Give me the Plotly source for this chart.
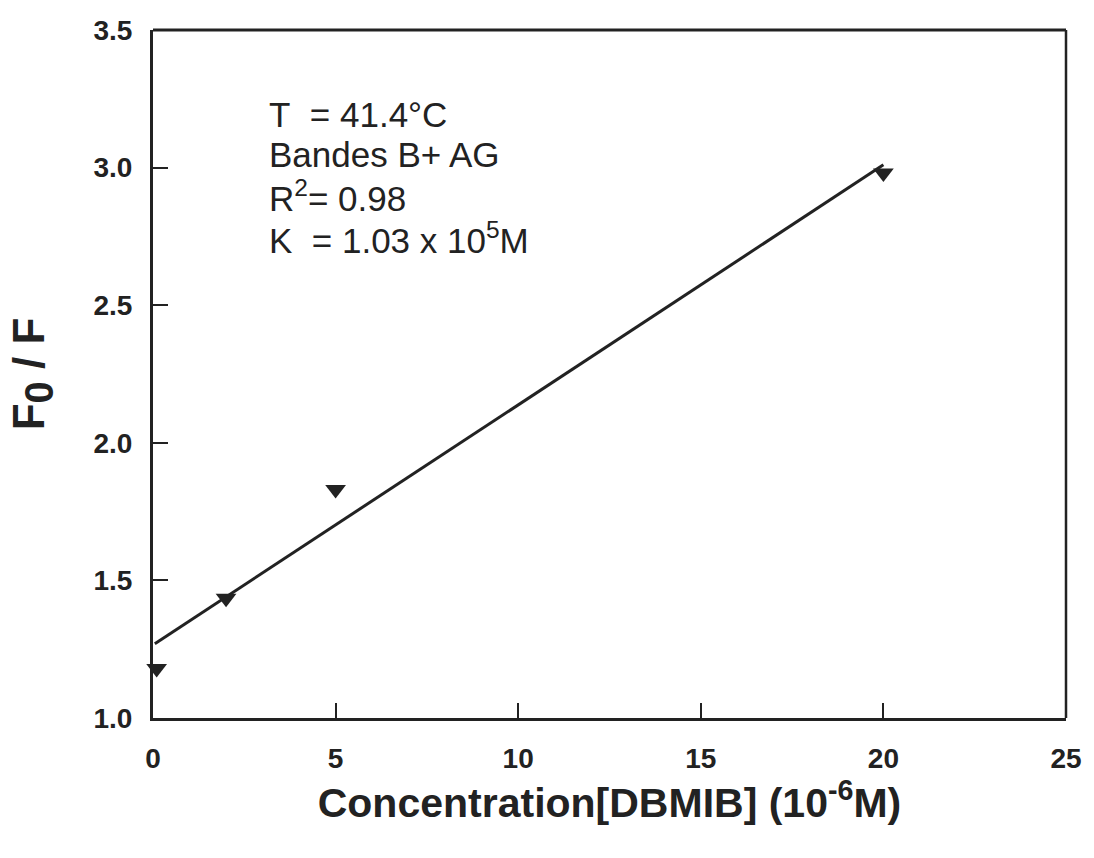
import plotly.graph_objects as go

# Measured quenching ratios
conc = [0.1, 2, 5, 20]          # DBMIB concentration (10^-6 M)
f0_over_f = [1.18, 1.435, 1.83, 2.98]

# Linear Stern-Volmer fit, endpoints
fit_x = [0.05, 20]
fit_y = [1.27, 3.01]

x_ticks = [0, 5, 10, 15, 20, 25]
y_ticks = [1.0, 1.5, 2.0, 2.5, 3.0, 3.5]

ink = "#222222"
sans = "Liberation Sans, Arial, sans-serif"

fig = go.Figure()
fig.add_trace(go.Scatter(
    x=fit_x, y=fit_y, mode="lines",
    line=dict(color=ink, width=3), showlegend=False, hoverinfo="skip",
))
fig.add_trace(go.Scatter(
    x=conc, y=f0_over_f, mode="markers",
    marker=dict(symbol="triangle-down", size=18, color=ink),
    showlegend=False, cliponaxis=False,
))

axis_common = dict(
    showgrid=False, zeroline=False, showline=True, linecolor=ink, linewidth=3,
    ticks="inside", ticklen=15, tickwidth=2, tickcolor=ink,
    tickfont=dict(family=sans, size=28, color=ink, weight="bold"),
)

fig.update_xaxes(
    range=[0, 25], tickvals=x_ticks, ticktext=[str(v) for v in x_ticks],
    ticklabelstandoff=13,
    title=dict(text="Concentration[DBMIB] (10<sup>-6</sup>M)",
               font=dict(family=sans, size=41, color=ink, weight="bold"),
               standoff=14),
    **axis_common,
)
fig.update_yaxes(
    range=[1.0, 3.5], tickvals=y_ticks, ticktext=[f"{v:.1f}" for v in y_ticks],
    ticklabelstandoff=12,
    title=dict(text="F<sub><span style='font-size:40px'>0</span></sub> / F",
               font=dict(family=sans, size=44, color=ink, weight="bold"),
               standoff=36),
    **axis_common,
)

# top and right frame lines
fig.add_shape(type="line", xref="paper", yref="paper", x0=0, x1=1, y0=1, y1=1,
              line=dict(color=ink, width=3))
fig.add_shape(type="line", xref="paper", yref="paper", x0=1, x1=1, y0=0, y1=1,
              line=dict(color=ink, width=2.5))

label_font = dict(family=sans, size=35, color=ink)
labels = [
    ("T\u00a0\u00a0= 41.4°C", 0.8765),
    ("Bandes B+ AG", 0.819),
    ("R<sup>2</sup>= 0.98", 0.759),
    ("K\u00a0\u00a0= 1.03 x 10<sup>5</sup>M", 0.697),
]
for text, yp in labels:
    fig.add_annotation(x=0.1247, y=yp, xref="paper", yref="paper", text=text,
                       showarrow=False, xanchor="left", yanchor="middle", font=label_font)

fig.update_layout(
    width=1094, height=858,
    margin=dict(l=153, r=19, t=30, b=140),
    paper_bgcolor="white", plot_bgcolor="white",
)

fig.write_html("out.html")
